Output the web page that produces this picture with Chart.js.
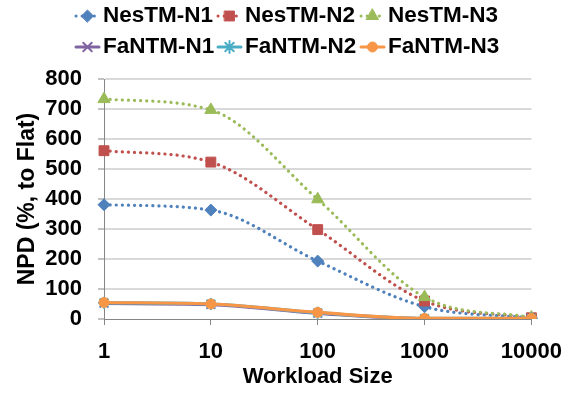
<!DOCTYPE html>
<html><head><meta charset="utf-8">
<script src="https://cdn.jsdelivr.net/npm/chart.js@4/dist/chart.umd.min.js"></script>
<style>html,body{margin:0;padding:0;background:#fff}#wrap{width:576px;height:400px}</style>
</head><body><div id="wrap"><canvas id="c" width="576" height="400"></canvas></div>
<script>
// ---- data ----
const workloadSizes = ['1', '10', '100', '1000', '10000'];
const nesTM_N1 = [381, 363, 193, 41, 3];
const nesTM_N2 = [561, 523, 298, 60, 4];
const nesTM_N3 = [733, 697, 399, 73, 5];
const faNTM_N1 = [52, 48, 19, 1, 1];
const faNTM_N2 = [54, 50, 21, 2, 2];
const faNTM_N3 = [55, 50, 22, 2, 2];
const seriesNames = ['NesTM-N1', 'NesTM-N2', 'NesTM-N3', 'FaNTM-N1', 'FaNTM-N2', 'FaNTM-N3'];
const yMin = 0, yMax = 800, yStep = 100;

// ---- styles ----
const FONT = '"Liberation Sans", Arial, sans-serif';
const colors = ['#4F81BD', '#C0504D', '#9BBB59', '#8064A2', '#4BACC6', '#F79646'];
const styles = ['rectRot', 'rect', 'triangle', 'crossRot', 'star', 'circle'];
const radii = [6, 7, 7, 6, 6, 5];
const values = [nesTM_N1, nesTM_N2, nesTM_N3, faNTM_N1, faNTM_N2, faNTM_N3];
const dotted = [true, true, true, false, false, false];

const datasets = values.map((v, i) => ({
  label: seriesNames[i],
  data: v,
  borderColor: colors[i],
  backgroundColor: colors[i],
  borderWidth: 3.2,
  borderDash: dotted[i] ? [0.1, 6] : [],
  borderCapStyle: 'round',
  pointStyle: styles[i],
  pointRadius: radii[i],
  pointBackgroundColor: colors[i],
  pointBorderColor: colors[i],
  pointBorderWidth: (styles[i] === 'crossRot' || styles[i] === 'star') ? 2 : 1,
  cubicInterpolationMode: 'monotone',
  fill: false,
  order: values.length - i
}));

const bgPlugin = {
  id: 'bg',
  beforeDraw(chart) {
    const c = chart.ctx;
    c.save(); c.fillStyle = '#fff'; c.fillRect(0, 0, chart.width, chart.height); c.restore();
  }
};

const legendPlugin = {
  id: 'customLegend',
  afterDraw(chart) {
    const c = chart.ctx;
    const colX = [75, 217, 360];
    const rowY = [16, 47];
    chart.data.datasets.forEach((ds, i) => {
      const x = colX[i % 3], y = rowY[Math.floor(i / 3)];
      c.save();
      c.strokeStyle = ds.borderColor;
      c.lineWidth = 3;
      c.lineCap = 'round';
      c.setLineDash(ds.borderDash);
      c.beginPath(); c.moveTo(x + 1, y); c.lineTo(x + 24, y); c.stroke();
      c.setLineDash([]);
      c.fillStyle = ds.pointBackgroundColor;
      c.strokeStyle = ds.pointBorderColor;
      c.lineWidth = ds.pointBorderWidth;
      Chart.helpers.drawPoint(c, {pointStyle: ds.pointStyle, rotation: 0, radius: ds.pointRadius, borderWidth: ds.pointBorderWidth}, x + 12.5, y);
      c.fillStyle = '#000';
      c.font = 'bold 22.5px ' + FONT;
      c.textAlign = 'left';
      c.textBaseline = 'middle';
      c.fillText(ds.label, x + 28, y);
      c.restore();
    });
  }
};

const tickFont = {family: FONT, weight: 'bold', size: 22};
const axisGray = '#868686';

new Chart(document.getElementById('c'), {
  type: 'line',
  data: {labels: workloadSizes, datasets},
  plugins: [bgPlugin, legendPlugin],
  options: {
    responsive: false,
    animation: false,
    layout: {padding: {top: 79, right: 43, bottom: 0, left: 0}},
    plugins: {legend: {display: false}, tooltip: {enabled: false}},
    scales: {
      x: {
        offset: false,
        grid: {drawOnChartArea: false, drawTicks: true, tickLength: 6, tickColor: axisGray},
        border: {color: axisGray, width: 1},
        ticks: {color: '#000', font: tickFont, padding: 14, maxRotation: 0, autoSkip: false},
        title: {display: true, text: 'Workload Size', color: '#000', font: {family: FONT, weight: 'bold', size: 22}, padding: {top: 0, bottom: 10}},
        afterFit(scale) { scale.height = 81; }
      },
      y: {
        min: yMin, max: yMax,
        grid: {
          color: (ctx) => ctx.tick && ctx.tick.value === 0 ? 'rgba(0,0,0,0)' : '#D9D9D9',
          lineWidth: 2, drawTicks: true, tickLength: 6, tickColor: axisGray, tickWidth: 1
        },
        border: {color: axisGray, width: 1},
        ticks: {stepSize: yStep, color: '#000', font: tickFont, padding: 16},
        title: {display: true, text: 'NPD (%, to Flat)', color: '#000', font: {family: FONT, weight: 'bold', size: 23}, padding: {top: 14, bottom: 0}},
        afterFit(scale) { scale.width = 104; }
      }
    }
  }
});
</script>
</body></html>
